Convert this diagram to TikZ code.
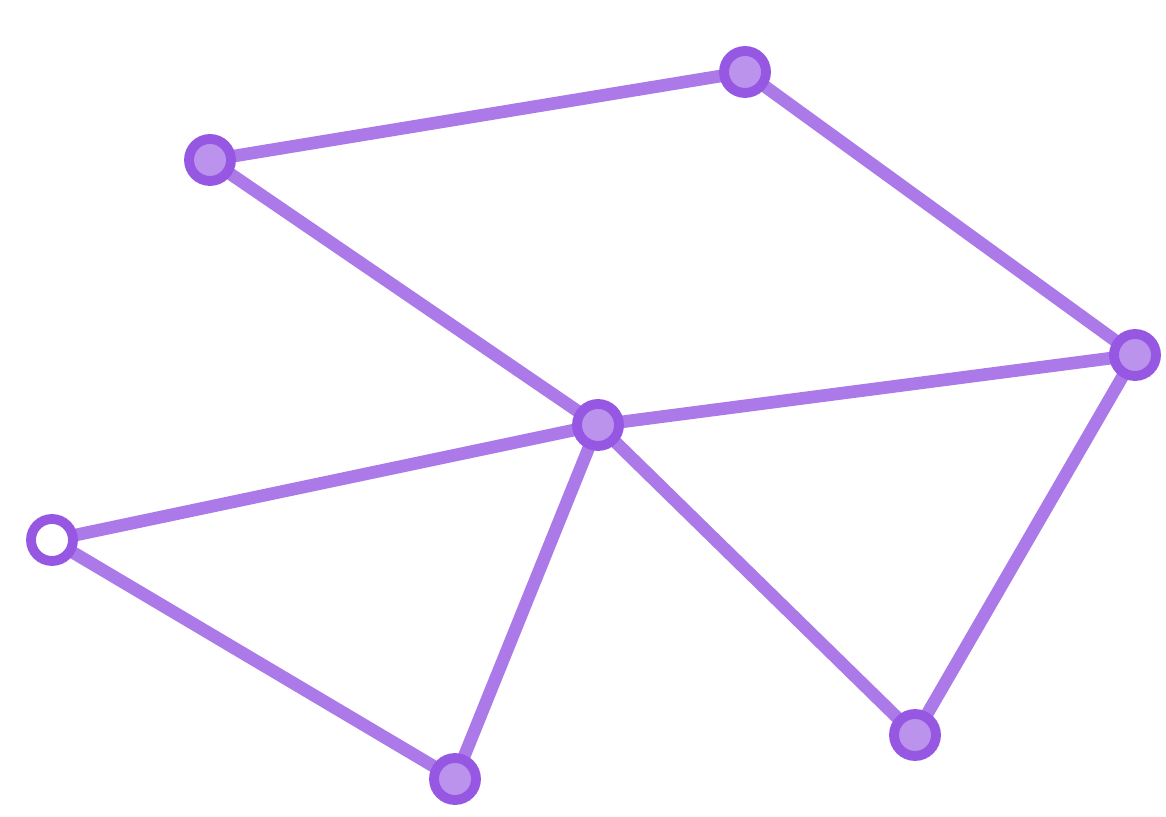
\documentclass[tikz,border=0pt]{standalone}
\usetikzlibrary{positioning,backgrounds}
\definecolor{pen}{RGB}{150,88,226}

\begin{document}
\begin{tikzpicture}[x=1cm,y=1cm,
   vx/.style={circle,draw=pen,line width=2.8pt,fill=pen!65,minimum size=4.2mm,inner sep=0pt},
   ed/.style={pen!80,line width=3.6pt,line cap=round,shorten <=-1pt,shorten >=-1pt}]
\useasboundingbox (0,0) rectangle (11.66,8.17);
%% ---- vertices ----
\node[vx] (a) at (7.45,7.45) {};
\node[vx] (b) at (2.10,6.57) {};
\node[vx] (c) at (11.35,4.62) {};
\node[vx] (d) at (5.98,3.92) {};
\node[vx,fill=white] (e) at (0.52,2.77) {};
\node[vx] (f) at (4.55,0.38) {};
\node[vx] (g) at (9.15,0.82) {};

%% ---- edges (behind the vertices) ----
\begin{scope}[on background layer]
  \draw[ed] (b)--(a) (a)--(c);
  \draw[ed] (b)--(d) (d)--(c);
  \draw[ed] (e)--(d) (e)--(f) (d)--(f);
  \draw[ed] (d)--(g) (c)--(g);
\end{scope}
\end{tikzpicture}
\end{document}
